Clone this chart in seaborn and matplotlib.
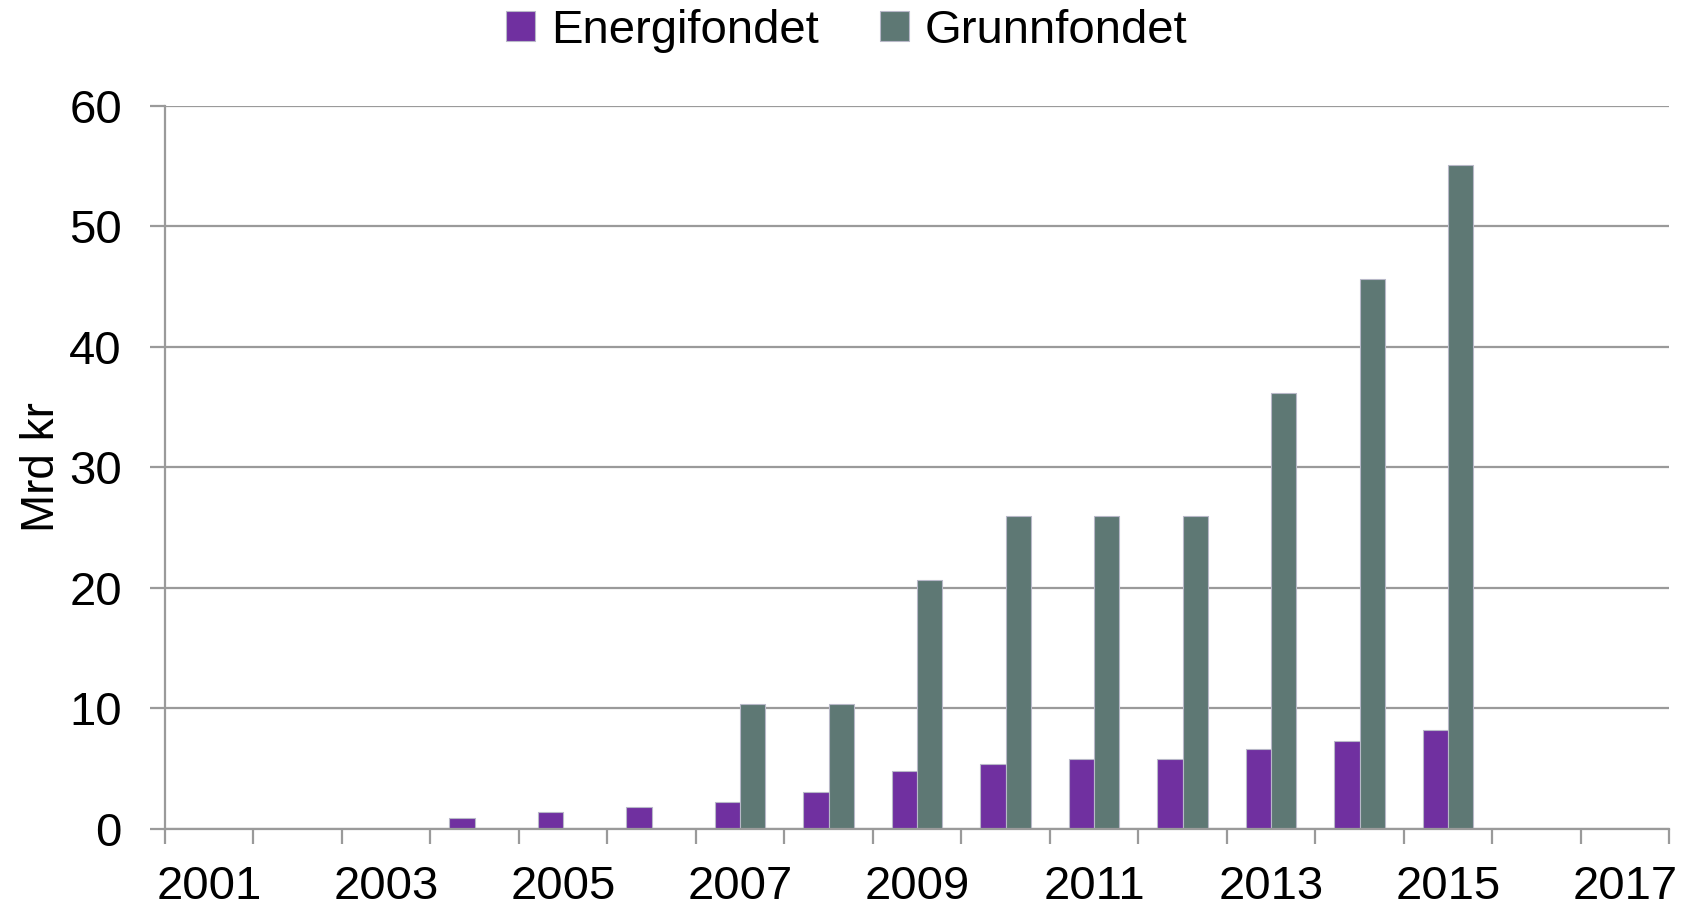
import numpy as np
import pandas as pd
import seaborn as sns
import matplotlib.pyplot as plt
from matplotlib.ticker import FixedLocator

years = [str(y) for y in range(2001, 2018)]
energifondet = [np.nan, np.nan, np.nan, 0.9, 1.4, 1.8, 2.2, 3.1, 4.8, 5.4, 5.8, 5.8, 6.6, 7.3, 8.2, np.nan, np.nan]
grunnfondet = [np.nan, np.nan, np.nan, np.nan, np.nan, np.nan, 10.4, 10.4, 20.7, 26.0, 26.0, 26.0, 36.2, 45.6, 55.1, np.nan, np.nan]
series = ["Energifondet", "Grunnfondet"]
colors = ["#7030A0", "#5E7874"]

df = pd.DataFrame({"år": years * 2,
                   "verdi": energifondet + grunnfondet,
                   "fond": [series[0]] * len(years) + [series[1]] * len(years)})

sns.set_style("white")
plt.rcParams["font.family"] = ["Liberation Sans", "DejaVu Sans"]
plt.rcParams["text.color"] = "black"
plt.rcParams["axes.labelcolor"] = "black"
plt.rcParams["xtick.color"] = "black"
plt.rcParams["ytick.color"] = "black"

fig = plt.figure(figsize=(16.94, 9.09), dpi=100)
ax = fig.add_axes([0.0974, 0.088, 0.888, 0.7956])

sns.barplot(data=df, x="år", y="verdi", hue="fond", order=years, hue_order=series,
            palette=colors, saturation=1, width=0.57, dodge=True,
            edgecolor="#B8B8C8", linewidth=0.8, ax=ax, legend=True)

gc = "#9A9A9A"
ax.set_ylim(0, 60)
ax.set_yticks(range(0, 61, 10))
ax.yaxis.grid(True, color=gc, linewidth=1.6)
ax.set_axisbelow(True)
ax.set_xlim(-0.5, len(years) - 0.5)

# tick marks at category borders, labels every other year at centres
ax.xaxis.set_major_locator(FixedLocator(np.arange(-0.5, len(years), 1.0)))
ax.set_xticklabels([])
ax.xaxis.set_minor_locator(FixedLocator(np.arange(0, len(years), 2)))
ax.set_xticklabels(years[::2], minor=True)
ax.tick_params(axis="x", which="major", length=11, width=1.6, color=gc, direction="out", bottom=True)
ax.tick_params(axis="x", which="minor", length=0, labelsize=34, pad=26)
ax.tick_params(axis="y", length=11, width=1.6, color=gc, labelsize=34, pad=20, left=True)

for side in ["top", "right"]:
    ax.spines[side].set_visible(False)
for side in ["left", "bottom"]:
    ax.spines[side].set_color(gc)
    ax.spines[side].set_linewidth(1.6)

ax.set_xlabel("")
ax.set_ylabel("Mrd kr", fontsize=33, labelpad=4)

handles, labels = ax.get_legend_handles_labels()
ax.get_legend().remove()
fig.legend(handles, labels, loc="center", bbox_to_anchor=(0.5, 0.966), ncol=2, frameon=False,
           fontsize=34, handlelength=0.6, handleheight=0.6, handletextpad=0.35,
           columnspacing=1.3)

fig.savefig("out.png", dpi=100)
